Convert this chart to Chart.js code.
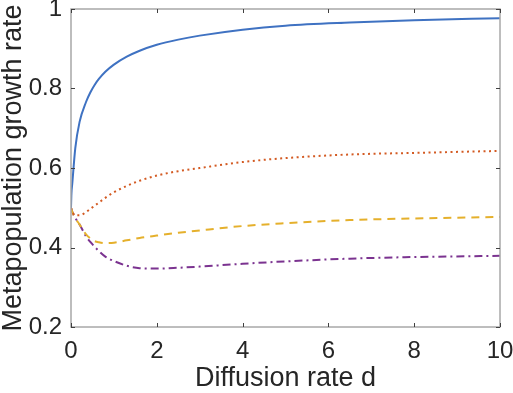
<!DOCTYPE html>
<html>
<head>
<meta charset="utf-8">
<script src="https://cdn.jsdelivr.net/npm/chart.js@4/dist/chart.umd.min.js"></script>
<style>
  html, body { margin: 0; padding: 0; background: #fff; }
  #wrap { width: 513px; height: 393px; }
</style>
</head>
<body>
<div id="wrap"><canvas id="chart" width="513" height="393"></canvas></div>
<script>
// diffusion rate d (x values)
const diffusion = [0, 0.01, 0.03, 0.1, 0.2, 0.35, 0.45, 0.55, 0.65, 0.8, 1.0, 1.3, 1.6, 2.0, 2.5, 3, 4, 5, 6.5, 8, 10];

// growth rate per curve
const solidSeries   = [0.5, 0.535, 0.561, 0.650, 0.716, 0.766, 0.790, 0.809, 0.824, 0.842, 0.860, 0.880, 0.895, 0.910, 0.923, 0.933, 0.948, 0.958, 0.966, 0.972, 0.977];
const dottedSeries  = [0.5, 0.495, 0.490, 0.481, 0.481, 0.489, 0.497, 0.505, 0.513, 0.525, 0.539, 0.555, 0.568, 0.581, 0.592, 0.600, 0.615, 0.625, 0.634, 0.638, 0.643];
const dashedSeries  = [0.5, 0.497, 0.490, 0.474, 0.458, 0.433, 0.423, 0.416, 0.413, 0.411, 0.412, 0.418, 0.424, 0.430, 0.437, 0.443, 0.454, 0.461, 0.469, 0.473, 0.477];
const dashDotSeries = [0.5, 0.497, 0.490, 0.474, 0.458, 0.428, 0.414, 0.402, 0.391, 0.377, 0.366, 0.354, 0.348, 0.347, 0.349, 0.352, 0.359, 0.365, 0.372, 0.376, 0.379];

const xTicks = [0, 2, 4, 6, 8, 10];
const yTicks = [0.2, 0.4, 0.6, 0.8, 1];

const textColor = '#262626';
const axisColor = '#a8a8a8';
const fontFamily = '"Liberation Sans", Arial, Helvetica, sans-serif';

function toPoints(ys) {
  return diffusion.map((d, i) => ({ x: d, y: ys[i] }));
}

// MATLAB-like box with inward ticks
const boxPlugin = {
  id: 'box',
  afterDraw(chart) {
    const { ctx, chartArea: a, scales } = chart;
    ctx.save();
    ctx.strokeStyle = axisColor;
    ctx.lineWidth = 1.5;
    ctx.strokeRect(a.left, a.top, a.right - a.left, a.bottom - a.top);
    ctx.strokeStyle = '#404040';
    ctx.lineWidth = 1;
    const len = 4;
    xTicks.forEach(t => {
      const x = Math.round(scales.x.getPixelForValue(t)) + 0.5;
      ctx.beginPath();
      ctx.moveTo(x, a.bottom); ctx.lineTo(x, a.bottom - len);
      ctx.moveTo(x, a.top); ctx.lineTo(x, a.top + len);
      ctx.stroke();
    });
    yTicks.forEach(t => {
      const y = Math.round(scales.y.getPixelForValue(t)) + 0.5;
      ctx.beginPath();
      ctx.moveTo(a.left, y); ctx.lineTo(a.left + len, y);
      ctx.moveTo(a.right, y); ctx.lineTo(a.right - len, y);
      ctx.stroke();
    });
    ctx.restore();
  }
};

const lineStyle = {
  fill: false,
  pointRadius: 0,
  borderWidth: 2,
  cubicInterpolationMode: 'monotone'
};

new Chart(document.getElementById('chart'), {
  type: 'line',
  data: {
    datasets: [
      { ...lineStyle, data: toPoints(solidSeries), borderColor: '#3f72c2' },
      { ...lineStyle, data: toPoints(dottedSeries), borderColor: '#d35a22', borderDash: [2, 3.5] },
      { ...lineStyle, data: toPoints(dashedSeries), borderColor: '#e5b02c', borderDash: [8, 6] },
      { ...lineStyle, data: toPoints(dashDotSeries), borderColor: '#7b3390', borderDash: [8, 4, 2, 4] }
    ]
  },
  options: {
    responsive: false,
    devicePixelRatio: 1,
    animation: false,
    layout: { padding: { top: 9, right: 13, left: 0, bottom: 0 } },
    plugins: { legend: { display: false }, tooltip: { enabled: false } },
    scales: {
      x: {
        type: 'linear',
        min: 0,
        max: 10,
        afterBuildTicks: s => { s.ticks = xTicks.map(v => ({ value: v })); },
        afterFit: s => { s.height = 66; s.paddingLeft = 0; s.paddingRight = 0; },
        grid: { display: false, drawTicks: false },
        border: { display: false },
        ticks: { color: textColor, font: { family: fontFamily, size: 24 }, padding: 10, maxRotation: 0 },
        title: { display: true, text: 'Diffusion rate d', color: textColor, font: { family: fontFamily, size: 27, lineHeight: 1 }, padding: { top: 0, bottom: 1 } }
      },
      y: {
        min: 0.2,
        max: 1,
        afterBuildTicks: s => { s.ticks = yTicks.map(v => ({ value: v })); },
        afterFit: s => { s.width = 71; s.paddingTop = 0; s.paddingBottom = 0; },
        grid: { display: false, drawTicks: false },
        border: { display: false },
        ticks: { color: textColor, font: { family: fontFamily, size: 24 }, padding: 9, callback: v => String(v) },
        title: { display: true, text: 'Metapopulation growth rate', color: textColor, font: { family: fontFamily, size: 27, lineHeight: 1 }, padding: { top: 0, bottom: 0 } }
      }
    }
  },
  plugins: [boxPlugin]
});
</script>
</body>
</html>
